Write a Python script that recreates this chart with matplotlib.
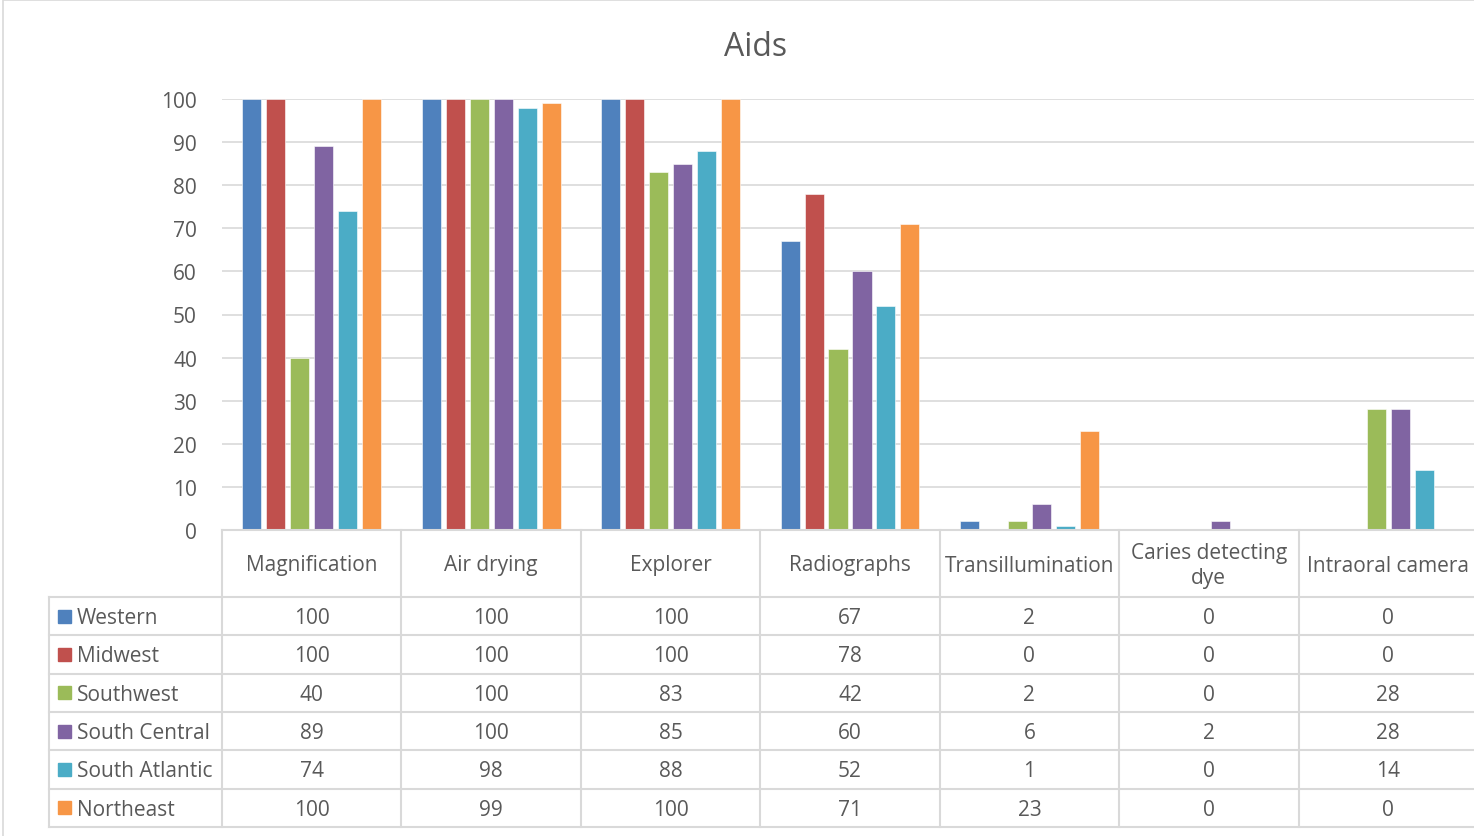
import matplotlib.pyplot as plt
from matplotlib.patches import Rectangle

plt.rcParams['font.family'] = ['Open Sans', 'DejaVu Sans']

# data
categories = ['Magnification', 'Air drying', 'Explorer', 'Radiographs',
              'Transillumination', 'Caries detecting\ndye', 'Intraoral camera']
regions = ['Western', 'Midwest', 'Southwest', 'South Central', 'South Atlantic', 'Northeast']
western = [100, 100, 100, 67, 2, 0, 0]
midwest = [100, 100, 100, 78, 0, 0, 0]
southwest = [40, 100, 83, 42, 2, 0, 28]
south_central = [89, 100, 85, 60, 6, 2, 28]
south_atlantic = [74, 98, 88, 52, 1, 0, 14]
northeast = [100, 99, 100, 71, 23, 0, 0]
series = [western, midwest, southwest, south_central, south_atlantic, northeast]
colors = ['#4F81BD', '#C0504D', '#9BBB59', '#8064A2', '#4BACC6', '#F79646']
yticks = list(range(0, 101, 10))

W, H = 1474, 837
grid_c = '#d9d9d9'
text_c = '#595959'

fig = plt.figure(figsize=(W / 100, H / 100), dpi=100)

# outer chart border (right and bottom run off the picture)
fig.add_artist(Rectangle((3 / W, -0.1), 1.2, 1.1 - 1 / H, transform=fig.transFigure,
                         fill=False, edgecolor=grid_c, lw=1.2))

fig.text(756 / W, 1 - 47 / H, 'Aids', ha='center', va='center', fontsize=23, color=text_c)

# bar chart
ax = fig.add_axes([222 / W, 1 - 531 / H, (1478 - 222) / W, 431 / H])
ax.set_xlim(-0.5, len(categories) - 0.5)
ax.set_ylim(0, 100)
pitch, width = 0.1337, 0.106
for k, (vals, col) in enumerate(zip(series, colors)):
    xs = [i + (k - 2.5) * pitch for i in range(len(categories))]
    ax.bar(xs, vals, width=width, color=col, edgecolor='white', linewidth=0.4, zorder=3)
ax.set_yticks(yticks)
ax.tick_params(axis='y', length=0, labelsize=15, labelcolor=text_c, pad=18)
ax.set_xticks([])
ax.grid(axis='y', color=grid_c, lw=1.2, zorder=0)
for s in ax.spines.values():
    s.set_visible(False)

# data table under the chart
col_px = (1478 - 222) / len(categories)
x_left = -0.5 - (222 - 49) / col_px
hdr_h = 67
row_h = (828 - 598) / len(regions)
tax = fig.add_axes([49 / W, 1 - 828 / H, (1478 - 49) / W, (828 - 531) / H])
tax.set_xlim(x_left, len(categories) - 0.5)
tax.set_ylim(hdr_h + row_h * len(regions), 0)
tax.axis('off')
x_right = len(categories) - 0.5
total_h = hdr_h + row_h * len(regions)

tax.plot([-0.5, x_right], [0, 0], color=grid_c, lw=1.5, clip_on=False)
for r in range(len(regions) + 1):
    y = hdr_h + r * row_h
    tax.plot([x_left, x_right], [y, y], color=grid_c, lw=1.5, clip_on=False)
for i in range(len(categories) + 1):
    tax.plot([i - 0.5, i - 0.5], [0, total_h], color=grid_c, lw=1.5, clip_on=False)
tax.plot([x_left, x_left], [hdr_h, total_h], color=grid_c, lw=1.5, clip_on=False)

for i, cat in enumerate(categories):
    tax.text(i, hdr_h / 2 + 1.5, cat, ha='center', va='center', fontsize=15,
             color=text_c, linespacing=1.3)

for r, (name, vals, col) in enumerate(zip(regions, series, colors)):
    yc = hdr_h + (r + 0.5) * row_h + 1.5
    tax.add_patch(Rectangle((x_left + 9 / col_px, yc - 8), 13 / col_px, 13,
                            color=col, clip_on=False))
    tax.text(x_left + 28 / col_px, yc, name, ha='left', va='center',
             fontsize=15, color=text_c)
    for i, v in enumerate(vals):
        tax.text(i, yc, str(v), ha='center', va='center', fontsize=15, color=text_c)

fig.savefig('out.png', dpi=100)
